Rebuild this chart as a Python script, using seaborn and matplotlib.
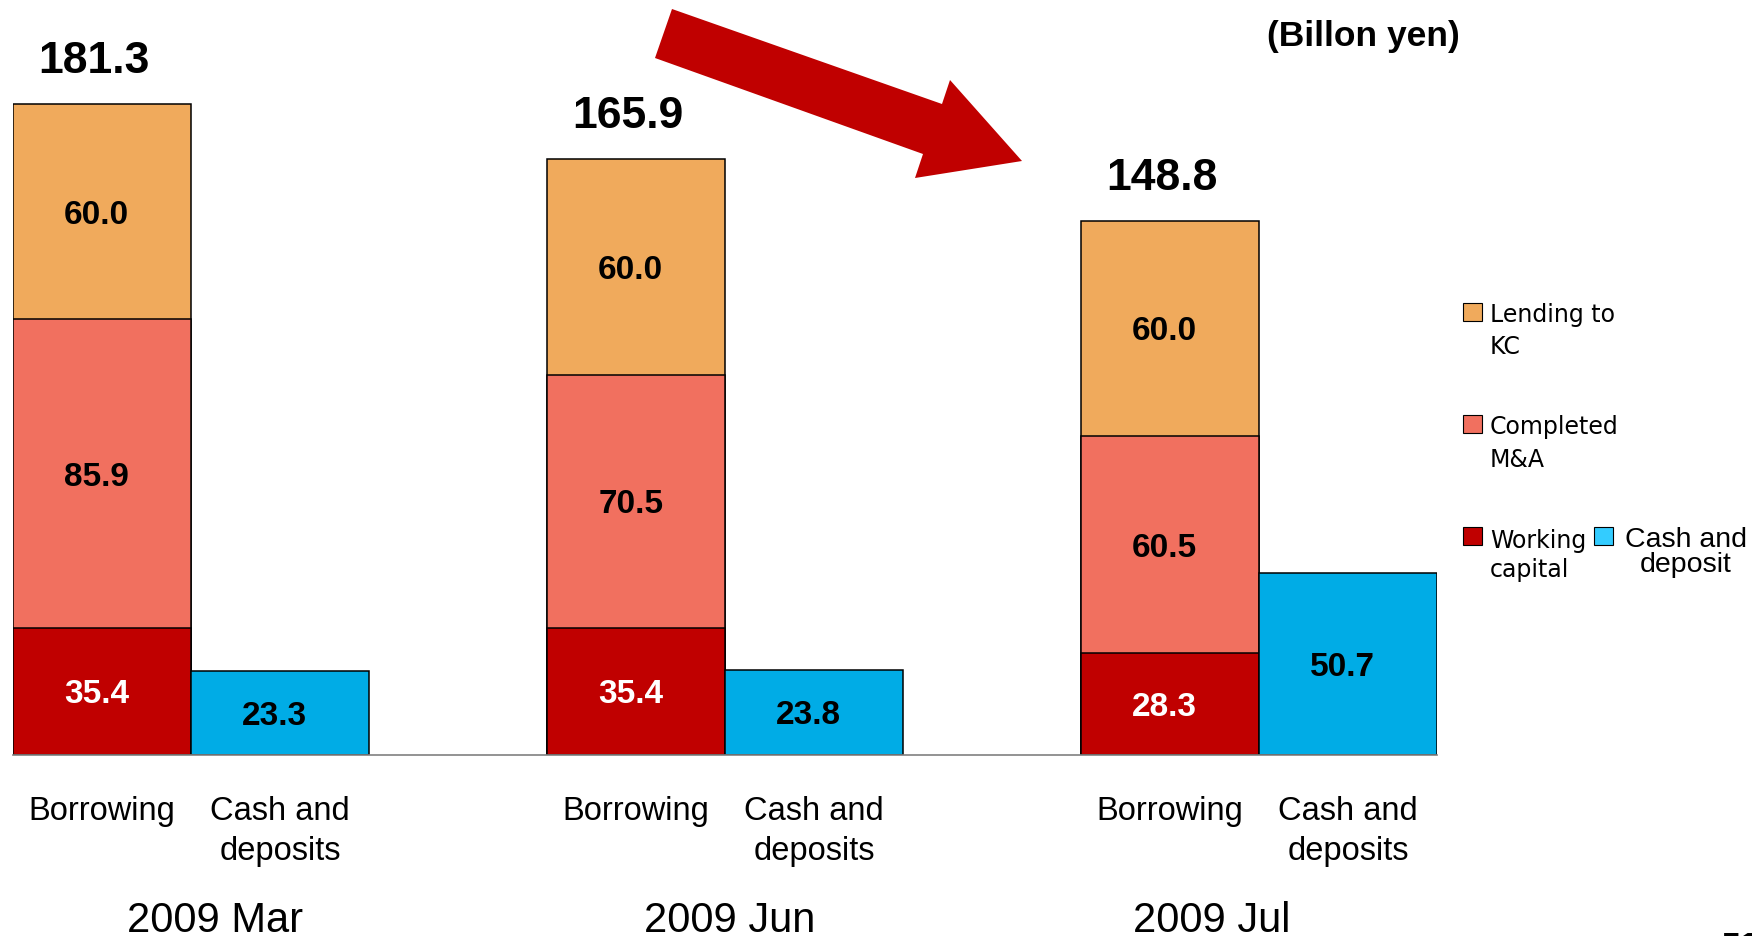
import matplotlib
matplotlib.use("Agg")
import matplotlib.pyplot as plt
import seaborn as sns
import pandas as pd
from matplotlib.patches import Polygon, Rectangle
from matplotlib.transforms import blended_transform_factory

# ---- data (billion yen) ----
periods = ["2009 Mar", "2009 Jun", "2009 Jul"]
working_capital = [35.4, 35.4, 28.3]
completed_ma = [85.9, 70.5, 60.5]
lending_kc = [60.0, 60.0, 60.0]
cash_deposits = [23.3, 23.8, 50.7]
totals = [181.3, 165.9, 148.8]
bar_names = ["Borrowing", "Cash and\ndeposits"]
legend_labels = [("Lending to", "KC"), ("Completed", "M&A"), ("Working", "capital")]
cash_legend = ("Cash and", "deposit")
unit_label = "(Billon yen)"
page_number = "51"

# ---- colours ----
ORANGE = "#F0AA5C"
SALMON = "#F1705F"
DARKRED = "#C00000"
BLUE = "#00ACE6"
LEGEND_BLUE = "#33CCFF"

sns.set_theme(style="white")
plt.rcParams["font.family"] = ["Liberation Sans", "DejaVu Sans"]

W, H = 1764, 936
fig = plt.figure(figsize=(W / 100, H / 100), dpi=100)
ax = fig.add_axes([13 / W, 1 - 755 / H, 1424 / W, 755 / H])


def fx(px):
    return px / W


def fy(py):
    return 1 - py / H


# categorical slots: two bars per period with an empty slot between periods
slots = []
for i, p in enumerate(periods):
    slots += [f"{p} Borrowing", f"{p} Cash"]
    if i < len(periods) - 1:
        slots.append(f"{p} gap")

borrow = pd.DataFrame({
    "slot": [f"{p} Borrowing" for p in periods],
    "working": working_capital,
    "ma": completed_ma,
    "kc": lending_kc,
})
borrow["ma_top"] = borrow["working"] + borrow["ma"]
borrow["kc_top"] = borrow["ma_top"] + borrow["kc"]

cash = pd.DataFrame({
    "slot": [f"{p} Cash" for p in periods],
    "cash": cash_deposits,
})

bar_kw = dict(order=slots, width=1.0, edgecolor="black", linewidth=1.1,
              errorbar=None, saturation=1, ax=ax)
sns.barplot(data=borrow, x="slot", y="kc_top", color=ORANGE, **bar_kw)
sns.barplot(data=borrow, x="slot", y="ma_top", color=SALMON, **bar_kw)
sns.barplot(data=borrow, x="slot", y="working", color=DARKRED, **bar_kw)
sns.barplot(data=cash, x="slot", y="cash", color=BLUE, **bar_kw)

ax.set_xlim(-0.5, len(slots) - 0.5)
ax.set_ylim(0, 755 / 3.591)
ax.set_xticks([])
ax.set_yticks([])
ax.set_xlabel("")
ax.set_ylabel("")
for s in ["top", "left", "right"]:
    ax.spines[s].set_visible(False)
ax.spines["bottom"].set_color("#808080")
ax.spines["bottom"].set_linewidth(1.2)


def seg_label(x, y, text, color, size=24):
    cap = 0.716 * size
    ax.annotate(text, xy=(x, y), xytext=(0, -cap / 2), textcoords="offset points",
                ha="center", va="baseline", fontsize=size, fontweight="bold",
                color=color)


for i, p in enumerate(periods):
    xb = slots.index(f"{p} Borrowing")
    xc = slots.index(f"{p} Cash")
    w, m, k = working_capital[i], completed_ma[i], lending_kc[i]
    seg_label(xb - 0.03, w / 2, f"{w:.1f}", "white")
    seg_label(xb - 0.03, w + m / 2, f"{m:.1f}", "black")
    seg_label(xb - 0.03, w + m + k / 2, f"{k:.1f}", "black")
    seg_label(xc - 0.03, cash_deposits[i] / 2, f"{cash_deposits[i]:.1f}", "black")
    ax.annotate(f"{totals[i]:.1f}", xy=(xb - 0.045, w + m + k), xytext=(0, 22.4),
                textcoords="offset points", ha="center", va="baseline",
                fontsize=32, fontweight="bold", color="black")

# category and period labels under the axis
trans = blended_transform_factory(ax.transData, fig.transFigure)
period_offsets = [0.635, 0.528, 0.236]
for i, p in enumerate(periods):
    xb = slots.index(f"{p} Borrowing")
    xc = slots.index(f"{p} Cash")
    ax.text(xb, fy(820), bar_names[0], transform=trans, ha="center",
            va="baseline", fontsize=23.5, color="black")
    first, second = bar_names[1].split("\n")
    ax.text(xc, fy(820), first, transform=trans, ha="center",
            va="baseline", fontsize=23.5, color="black")
    ax.text(xc, fy(860), second, transform=trans, ha="center",
            va="baseline", fontsize=23.5, color="black")
    ax.text(xb + period_offsets[i], fy(932), p, transform=trans, ha="center",
            va="baseline", fontsize=30, color="black")

# unit note
fig.text(fx(1363), fy(46), unit_label, ha="center", va="baseline",
         fontsize=25.5, fontweight="bold", color="black")

# downward trend arrow
arrow_pts = [(672, 9), (942, 104), (950, 80), (1022, 161), (915, 178),
             (923, 154), (655, 58)]
fig.add_artist(Polygon([(fx(x), fy(y)) for x, y in arrow_pts], closed=True,
                       facecolor=DARKRED, edgecolor="none",
                       transform=fig.transFigure))

# legend
legend_font = ["DejaVu Sans"]
legend_rows = [(303, ORANGE), (415, SALMON), (527, DARKRED)]
line_baselines = [(322, 354), (434, 467), (548, 577)]
for (top, col), (l1, l2), (b1, b2) in zip(legend_rows, legend_labels, line_baselines):
    fig.add_artist(Rectangle((fx(1463), fy(top + 18)), 19 / W, 18 / H,
                             facecolor=col, edgecolor="black", linewidth=0.8,
                             transform=fig.transFigure))
    fig.text(fx(1490), fy(b1), l1, ha="left", va="baseline", fontsize=17,
             family=legend_font, color="black")
    fig.text(fx(1490), fy(b2), l2, ha="left", va="baseline", fontsize=17,
             family=legend_font, color="black")

fig.add_artist(Rectangle((fx(1594), fy(545)), 19 / W, 18 / H,
                         facecolor=LEGEND_BLUE, edgecolor="black", linewidth=0.8,
                         transform=fig.transFigure))
fig.text(fx(1686), fy(547), cash_legend[0], ha="center", va="baseline",
         fontsize=20.5, color="black")
fig.text(fx(1686), fy(572), cash_legend[1], ha="center", va="baseline",
         fontsize=20.5, color="black")

# page number at the lower right edge
fig.text(fx(1722), fy(956), page_number, ha="left", va="baseline",
         fontsize=24, fontweight="bold", color="black")

fig.savefig("out.png", dpi=100)
